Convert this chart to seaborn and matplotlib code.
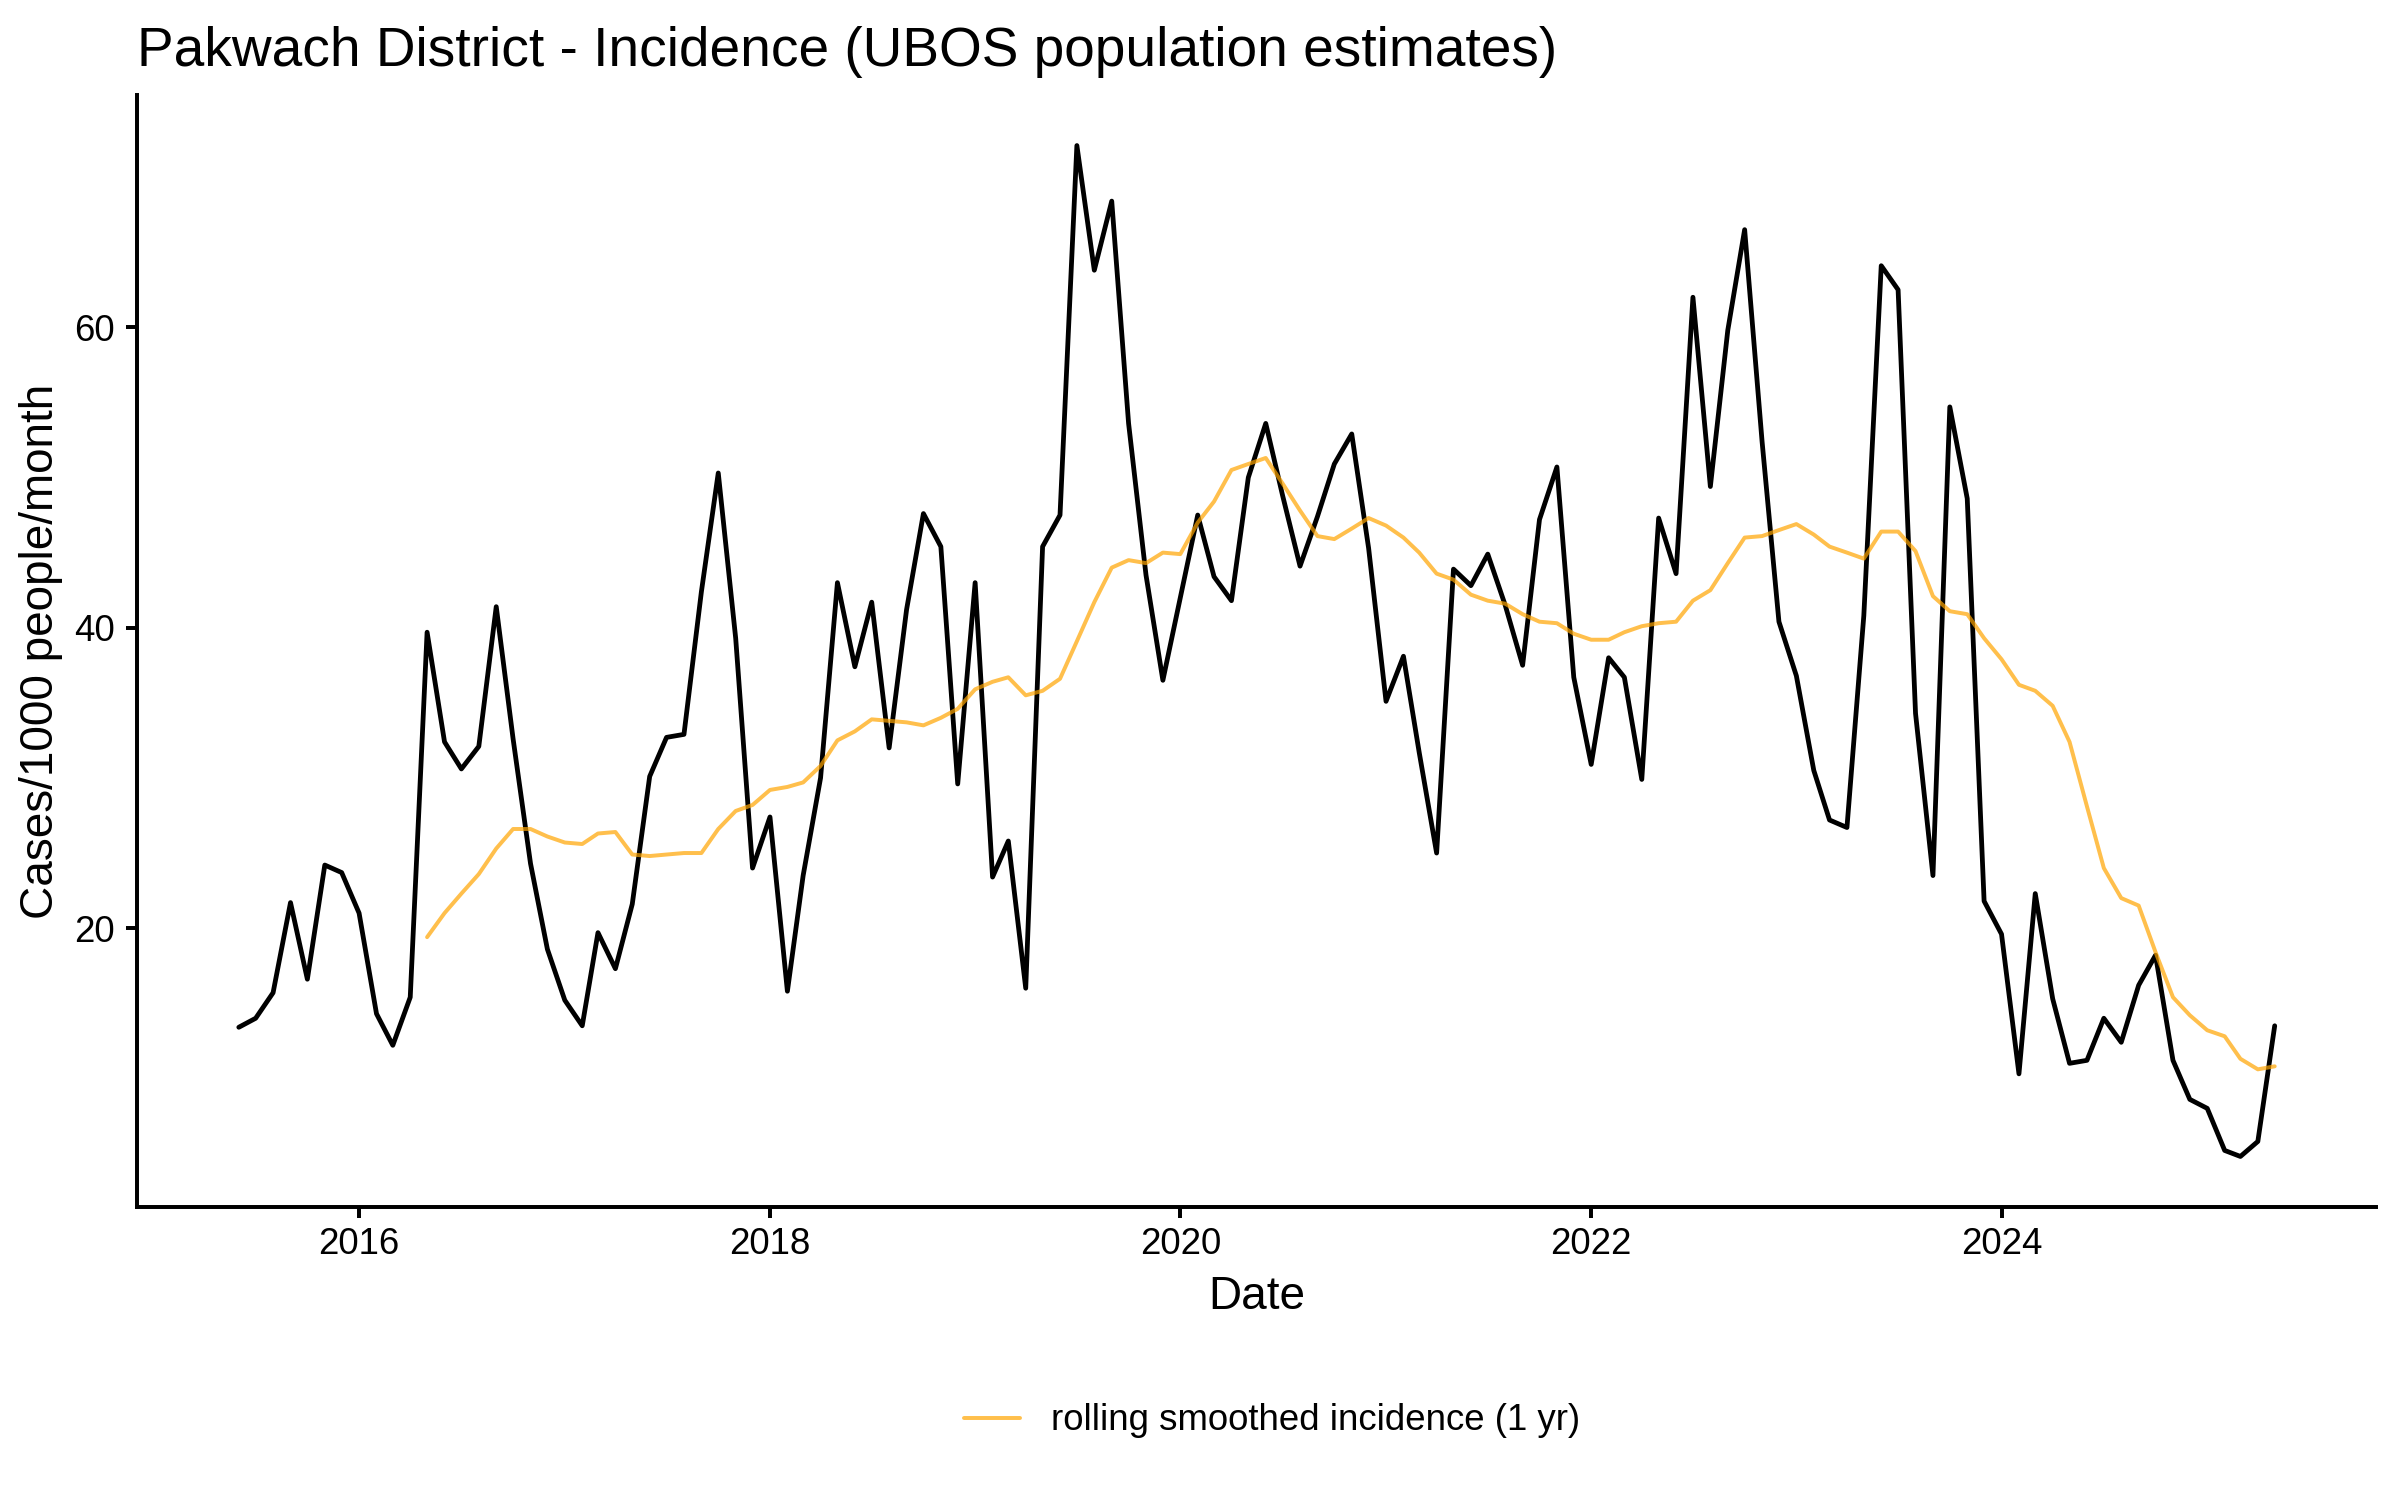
import numpy as np
import pandas as pd
import matplotlib
matplotlib.use("Agg")
import matplotlib.pyplot as plt
import matplotlib.dates as mdates
import seaborn as sns

# monthly incidence, Jun 2015 - May 2025 (cases per 1000 people per month)
incidence = [
    13.4, 14.0, 15.7, 21.7, 16.6, 24.2, 23.7, 21.0, 14.3, 12.2, 15.4, 39.7,
    32.4, 30.6, 32.1, 41.4, 32.6, 24.3, 18.6, 15.2, 13.5, 19.7, 17.3, 21.6,
    30.1, 32.7, 32.9, 42.4, 50.3, 39.3, 24.0, 27.4, 15.8, 23.5, 30.0, 43.0,
    37.4, 41.7, 32.0, 41.2, 47.6, 45.4, 29.6, 43.0, 23.4, 25.8, 16.0, 45.4,
    47.5, 72.1, 63.8, 68.4, 53.6, 43.5, 36.5, 42.0, 47.5, 43.4, 41.8, 50.0,
    53.6, 48.8, 44.1, 47.4, 50.9, 52.9, 45.3, 35.1, 38.1, 31.7, 25.0, 43.9,
    42.8, 44.9, 41.5, 37.5, 47.2, 50.7, 36.7, 30.9, 38.0, 36.7, 29.9, 47.3,
    43.6, 62.0, 49.4, 59.8, 66.5, 52.4, 40.4, 36.8, 30.5, 27.2, 26.7, 40.8,
    64.1, 62.5, 34.3, 23.5, 54.7, 48.6, 21.8, 19.6, 10.3, 22.3, 15.3, 11.0,
    11.2, 14.0, 12.4, 16.2, 18.2, 11.2, 8.6, 8.0, 5.2, 4.8, 5.8, 13.5,
]

# 1 yr rolling smoothed incidence, May 2016 - May 2025
rolling = [
    19.4, 21.0, 22.3, 23.6, 25.3, 26.6, 26.6, 26.1, 25.7, 25.6, 26.3, 26.4,
    24.9, 24.8, 24.9, 25.0, 25.0, 26.6, 27.8, 28.2, 29.2, 29.4, 29.7, 30.8,
    32.5, 33.1, 33.9, 33.8, 33.7, 33.5, 34.0, 34.6, 35.9, 36.4, 36.7, 35.5,
    35.8, 36.6, 39.1, 41.7, 44.0, 44.5, 44.3, 45.0, 44.9, 47.0, 48.4, 50.5,
    50.9, 51.3, 49.6, 47.8, 46.1, 45.9, 46.6, 47.3, 46.8, 46.0, 45.0, 43.6,
    43.2, 42.2, 41.8, 41.6, 40.9, 40.4, 40.3, 39.6, 39.2, 39.2, 39.7, 40.1,
    40.3, 40.4, 41.8, 42.5, 44.3, 46.0, 46.1, 46.5, 46.9, 46.2, 45.4, 45.0,
    44.6, 46.4, 46.4, 45.1, 42.1, 41.1, 40.9, 39.3, 37.9, 36.2, 35.8, 34.8,
    32.4, 28.1, 24.0, 22.0, 21.5, 18.4, 15.4, 14.2, 13.2, 12.8, 11.3, 10.6,
    10.8,
]

dates = pd.date_range("2015-06-01", periods=len(incidence), freq="MS")
roll_dates = pd.date_range("2016-05-01", periods=len(rolling), freq="MS")

df = pd.DataFrame({"date": dates, "incidence": incidence})
df_roll = pd.DataFrame({"date": roll_dates, "rolling": rolling})

sns.set_theme(style="ticks")
plt.rcParams["font.family"] = ["Liberation Sans", "DejaVu Sans"]
plt.rcParams["text.color"] = "black"
plt.rcParams["axes.labelcolor"] = "black"

W, H = 2400, 1500
fig = plt.figure(figsize=(16, 10), dpi=150)
left, right, top, bottom = 137, 2376.5, 95, 1207
ax = fig.add_axes([left / W, 1 - bottom / H, (right - left) / W, (bottom - top) / H])

sns.lineplot(data=df, x="date", y="incidence", color="black", linewidth=2.3, ax=ax, legend=False)
sns.lineplot(data=df_roll, x="date", y="rolling", color="orange", alpha=0.7, linewidth=1.9,
             ax=ax, label="rolling smoothed incidence (1 yr)")

# ggplot style 5% expansion
span = dates[-1] - dates[0]
ax.set_xlim(dates[0] - span * 0.05, dates[-1] + span * 0.05)
lo, hi = min(incidence), max(incidence)
ax.set_ylim(lo - 0.05 * (hi - lo), hi + 0.05 * (hi - lo))

ax.xaxis.set_major_locator(mdates.YearLocator(2))
ax.xaxis.set_major_formatter(mdates.DateFormatter("%Y"))
ax.set_yticks([20, 40, 60])

for s in ["top", "right"]:
    ax.spines[s].set_visible(False)
for s in ["left", "bottom"]:
    ax.spines[s].set_linewidth(1.9)
    ax.spines[s].set_color("black")
ax.tick_params(axis="both", length=5.2, width=1.9, color="black", labelsize=17.6, labelcolor="black")
ax.tick_params(axis="y", pad=5.5)
ax.tick_params(axis="x", pad=4.5)

ax.set_xlabel("Date", fontsize=22, va="baseline", color="black")
ax.xaxis.set_label_coords(0.5, (bottom - 1309) / (bottom - top))
ax.set_ylabel("Cases/1000 people/month", fontsize=22, va="center", color="black")
ax.yaxis.set_label_coords((41.5 - left) / (right - left), 0.5)

fig.text(left / W, 1 - 66 / H, "Pakwach District - Incidence (UBOS population estimates)",
         fontsize=26.4, ha="left", va="baseline", color="black")

handles, labels = ax.get_legend_handles_labels()
ax.get_legend().remove()
leg = fig.legend(handles, labels, loc="center", bbox_to_anchor=(0.530, 1 - 1421 / H), frameon=False,
                 fontsize=17.6, handlelength=1.53, handletextpad=0.85)
for t in leg.get_texts():
    t.set_color("black")

fig.savefig("out.png", dpi=150, facecolor="white")
